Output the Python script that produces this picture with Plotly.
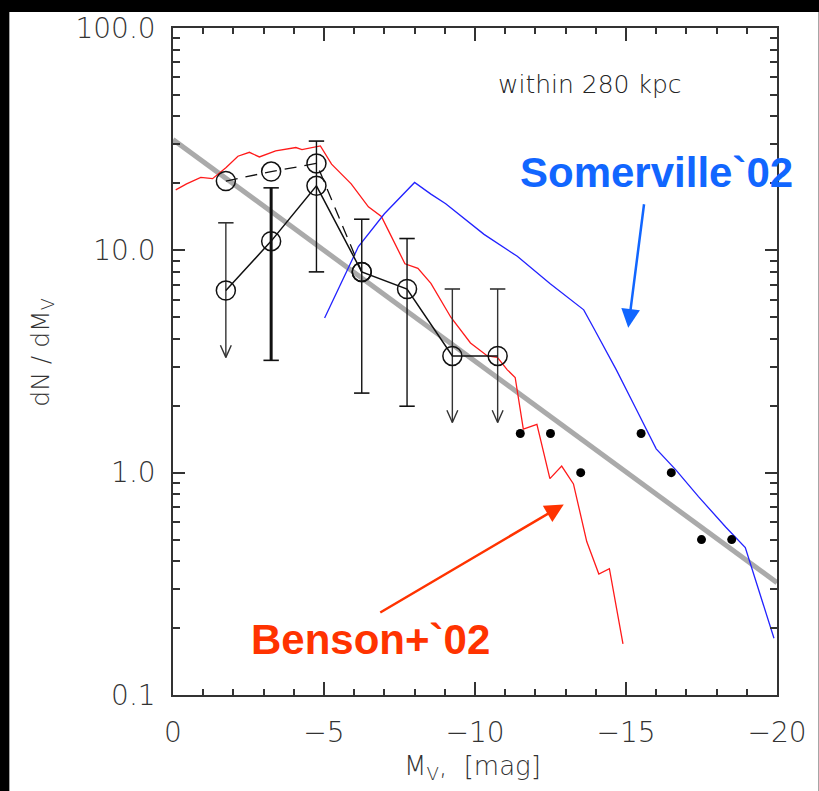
import plotly.graph_objects as go

# ---------------- data ----------------
# observed satellite LF (open circles, solid line)
obs_mv = [-1.75, -3.25, -4.75, -6.25, -7.75, -9.25, -10.75]
obs_n = [6.6, 11.0, 19.5, 8.0, 6.7, 3.35, 3.35]
obs_hi = [13.3, 19.1, 31.0, 13.8, 11.3, 6.7, 6.7]
obs_lo = [3.3, 3.2, 8.0, 2.28, 1.99, 1.68, 1.68]
obs_is_limit = [True, False, False, False, False, True, True]
obs_thick = [False, True, False, False, False, False, False]

# alternative estimate (open circles, dashed line)
alt_mv = [-1.75, -3.25, -4.75, -6.25]
alt_n = [20.5, 22.6, 24.6, 8.0]

# bright satellites (filled dots)
bright_mv = [-11.5, -12.5, -13.5, -15.5, -16.5, -17.5, -18.5]
bright_n = [1.5, 1.5, 1.0, 1.5, 1.0, 0.5, 0.5]

# gray power-law fit
fit_mv = [0, -20]
fit_n = [31.5, 0.32]

# Benson+02 model (red)
benson_mv = [-0.09, -0.45, -0.92, -1.31, -1.76, -2.15, -2.53, -2.86, -3.4, -4.07,
             -4.27, -4.88, -5.25, -5.9, -6.47, -6.9, -7.13, -7.45, -7.68, -8.11,
             -8.54, -9.2, -9.85, -10.41, -10.74, -11.07, -11.33, -11.6, -12.05, -12.48,
             -12.87, -13.26, -13.7, -14.1, -14.45, -14.9]
benson_n = [18.7, 19.9, 21.3, 21.0, 23.6, 26.5, 27.6, 26.3, 28.0, 29.0,
            28.4, 29.5, 24.4, 19.9, 15.7, 14.2, 12.3, 10.1, 8.7, 8.3,
            7.1, 5.0, 3.83, 3.35, 3.3, 2.9, 2.68, 1.57, 1.65, 0.94,
            1.07, 0.89, 0.49, 0.35, 0.37, 0.17]

# Somerville02 model (blue)
somer_mv = [-5.02, -6.14, -7.0, -8.0, -8.54, -9.03, -10.3, -11.4, -12.48, -13.6,
            -13.92, -14.68, -15.34, -16.0, -16.65, -17.4, -18.3, -18.95, -19.9]
somer_n = [4.96, 10.4, 14.6, 20.2, 17.9, 16.2, 11.8, 9.4, 7.1, 5.4,
           4.5, 2.9, 1.93, 1.28, 1.03, 0.78, 0.57, 0.46, 0.18]

x_ticks = [0, -5, -10, -15, -20]
x_tick_text = ["0", "\u22125", "\u221210", "\u221215", "\u221220"]
y_ticks = [0.1, 1, 10, 100]
y_tick_text = ["0.1", "1.0", "10.0", "100.0"]

# ---------------- layout geometry ----------------
W, H = 819, 791
L, R, T, B = 173, 37, 23, 96
PW, PH = W - L - R, H - T - B


def px(xp):
    return (xp - L) / PW


def py(yp):
    return (H - B - yp) / PH


fig = go.Figure()

# gray fit
fig.add_trace(go.Scatter(x=fit_mv, y=fit_n, mode="lines",
                         line=dict(color="#aaaaaa", width=5), hoverinfo="skip"))
# models
fig.add_trace(go.Scatter(x=benson_mv, y=benson_n, mode="lines",
                         line=dict(color="#ff1a1a", width=1.3)))
fig.add_trace(go.Scatter(x=somer_mv, y=somer_n, mode="lines",
                         line=dict(color="#2222ff", width=1.3)))

# error bars
for m, v, hi, lo, lim, thick in zip(obs_mv, obs_n, obs_hi, obs_lo, obs_is_limit, obs_thick):
    w = 3 if thick else 1.4
    col = "#111111" if not lim else "#333333"
    fig.add_trace(go.Scatter(x=[m, m], y=[hi, lo], mode="lines",
                             line=dict(color=col, width=w)))
    cap_y = [hi] if lim else [hi, lo]
    fig.add_trace(go.Scatter(x=[m] * len(cap_y), y=cap_y, mode="markers",
                             marker=dict(symbol="line-ew-open", size=11, color=col,
                                         line=dict(color=col, width=1.6))))
    if lim:
        head_dx, head_f = 0.18, 10 ** 0.055
        fig.add_trace(go.Scatter(x=[m - head_dx, m, m + head_dx],
                                 y=[lo * head_f, lo, lo * head_f], mode="lines",
                                 line=dict(color=col, width=1.4)))

# dashed alternative
fig.add_trace(go.Scatter(x=alt_mv, y=alt_n, mode="lines+markers",
                         line=dict(color="#111111", width=1.3, dash="12px,8px"),
                         marker=dict(symbol="circle-open", size=19, color="#111111",
                                     line=dict(color="#111111", width=1.5))))
# solid observed
fig.add_trace(go.Scatter(x=obs_mv, y=obs_n, mode="lines+markers",
                         line=dict(color="#111111", width=1.5),
                         marker=dict(symbol="circle-open", size=19, color="#111111",
                                     line=dict(color="#111111", width=1.5))))
# bright satellites
fig.add_trace(go.Scatter(x=bright_mv, y=bright_n, mode="markers",
                         marker=dict(symbol="circle", size=9, color="black")))

tick_font = dict(family="DejaVu Sans", size=28, color="#333333", weight=200)

fig.update_layout(
    width=W, height=H, autosize=False,
    margin=dict(l=L, r=R, t=T, b=B, pad=0),
    paper_bgcolor="black", plot_bgcolor="white",
    showlegend=False,
    xaxis=dict(range=[0, -20], showgrid=False, zeroline=False,
               showline=True, linecolor="#333333", linewidth=1.5, mirror="ticks",
               ticks="inside", ticklen=13, tickwidth=1.5, tickcolor="#333333",
               tickvals=x_ticks, ticktext=x_tick_text, tickfont=tick_font,
               ticklabelstandoff=12,
               minor=dict(ticks="inside", ticklen=6, tickwidth=1.5,
                          tickcolor="#333333", dtick=1, showgrid=False)),
    yaxis=dict(type="log", range=[-1, 2], showgrid=False, zeroline=False,
               showline=True, linecolor="#333333", linewidth=1.5, mirror="ticks",
               ticks="inside", ticklen=12, tickwidth=1.5, tickcolor="#333333",
               tickvals=y_ticks, ticktext=y_tick_text, tickfont=tick_font,
               ticklabelstandoff=10,
               minor=dict(ticks="inside", ticklen=7, tickwidth=1.5,
                          tickcolor="#333333", dtick="D1", showgrid=False)),
)

# white page area (black frame remains on top and left edges)
fig.add_shape(type="rect", xref="paper", yref="paper", layer="below",
              x0=px(8), x1=px(W + 5), y0=py(7), y1=py(H + 5),
              fillcolor="white", line_width=0)

center = dict(xanchor="center", yanchor="middle")

# text annotations
fig.add_annotation(xref="paper", yref="paper", x=px(593), y=py(80), **center,
                   text="within 280 kpc", showarrow=False,
                   font=dict(family="DejaVu Sans", size=25, color="#222222", weight=200))
fig.add_annotation(xref="paper", yref="paper", x=px(40), y=py(350), **center,
                   text="dN / dM<sub>V</sub>", showarrow=False, textangle=-90,
                   font=dict(family="DejaVu Sans", size=25, color="#333333", weight=200))
fig.add_annotation(xref="paper", yref="paper", x=px(475), y=py(768), **center,
                   text="M<sub>V</sub>,  [mag]", showarrow=False,
                   font=dict(family="DejaVu Sans", size=26, color="#333333", weight=200))

fig.add_annotation(xref="paper", yref="paper", x=px(660), y=py(169), **center,
                   text="<b>Somerville`02</b>", showarrow=False,
                   font=dict(family="Liberation Sans", size=42, color="#1166ff"))
fig.add_annotation(xref="paper", yref="paper", x=px(372), y=py(639), **center,
                   text="<b>Benson+`02</b>", showarrow=False,
                   font=dict(family="Liberation Sans", size=42, color="#ff3300"))

# arrows
fig.add_annotation(xref="paper", yref="paper", x=px(632), y=py(325),
                   ax=16, ay=-125, text="", showarrow=True,
                   arrowhead=2, arrowsize=1.5, arrowwidth=2.5, arrowcolor="#1166ff")
fig.add_annotation(xref="paper", yref="paper", x=px(567), y=py(503),
                   ax=-185, ay=109, text="", showarrow=True,
                   arrowhead=2, arrowsize=1.5, arrowwidth=2.5, arrowcolor="#ff3300")

fig.write_html("out.html", config={"displayModeBar": False},
               post_script="document.body.style.margin='0';document.body.style.overflow='hidden';")
